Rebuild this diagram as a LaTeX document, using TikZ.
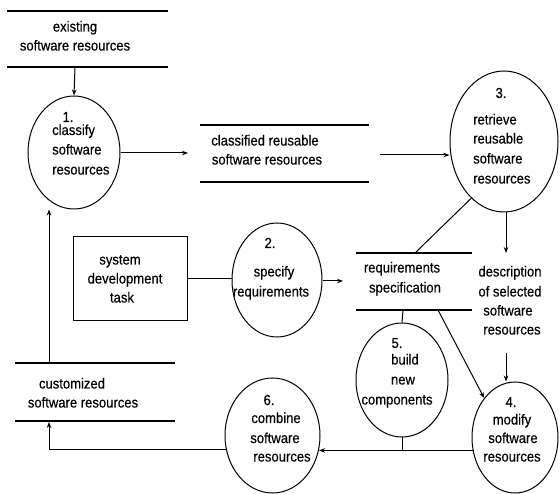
\documentclass[tikz,border=0pt]{standalone}
\usepackage{fontspec}
\setmainfont{Liberation Sans}[FakeStretch=0.9,FakeBold=0.4]
\usetikzlibrary{shapes.geometric,arrows.meta}
\tikzset{
  proc/.style={draw,ellipse,line width=1pt,inner sep=0pt},
  txt/.style={anchor=base,inner sep=0pt,font=\fontsize{14.5}{17}\selectfont},
  storeline/.style={line width=1.2pt},
  flow/.style={line width=1pt,-{Stealth[length=6pt,width=4.5pt]}},
  link/.style={line width=1pt},
}
\begin{document}
\begin{tikzpicture}[x=1pt,y=-1pt]
\useasboundingbox (0,0) rectangle (560,494);
% ---------- data stores ----------
\draw[storeline] (7,11) -- (168,11);
\draw[storeline] (7,67) -- (168,67);
\node[txt] (s1a) at (75,31.5) {existing};
\node[txt] (s1b) at (75,50.5) {software resources};
\coordinate (s1out) at (75,67);

\draw[storeline] (200,125) -- (369,125);
\draw[storeline] (200,182) -- (369,182);
\node[txt] (s2a) at (265,145.5) {classified reusable};
\node[txt] (s2b) at (267,164.5) {software resources};
\coordinate (s2in) at (188,153);
\coordinate (s2out) at (380,155);

\draw[storeline] (356,253) -- (472,253);
\draw[storeline] (356,310) -- (472,310);
\node[txt] (s3a) at (402,272.5) {requirements};
\node[txt] (s3b) at (405,292.5) {specification};
\coordinate (s3in) at (343,281);
\coordinate (s3top) at (415,253);
\coordinate (s3b5) at (403,310);
\coordinate (s3b4) at (438,310);

\draw[storeline] (15,363) -- (175,363);
\draw[storeline] (15,421) -- (175,421);
\node[txt] (s4a) at (72,388.5) {customized};
\node[txt] (s4b) at (83,407.5) {software resources};
\coordinate (s4top) at (49,363);
\coordinate (s4in) at (49,422);

% ---------- description (free text) ----------
\node[txt] (d1) at (510,276.5) {description};
\node[txt] (d2) at (510,296.5) {of selected};
\node[txt] (d3) at (508,315.5) {software};
\node[txt] (d4) at (512,334.5) {resources};
\coordinate (dtop) at (506,253);
\coordinate (dbot) at (506,353);

% ---------- external entity ----------
\node[draw,line width=1pt,minimum width=114pt,minimum height=84pt,inner sep=0pt] (task) at (130,279) {};
\node[txt] (ta) at (120,264.5) {system};
\node[txt] (tb) at (125,283.5) {development};
\node[txt] (tc) at (122,302.5) {task};

% ---------- processes ----------
\node[proc,minimum width=92pt,minimum height=113pt] (c1) at (74,152.5) {};
\node[txt] (c1n) at (68,122) {1.};
\node[txt,anchor=base west] (c1a) at (52,135) {classify};
\node[txt,anchor=base west] (c1b) at (52,154.5) {software};
\node[txt,anchor=base west] (c1c) at (52,174.5) {resources};

\node[proc,minimum width=90pt,minimum height=114pt] (c2) at (277,280) {};
\node[txt] (c2n) at (270,248) {2.};
\node[txt] (c2a) at (274,276.5) {specify};
\node[txt] (c2b) at (271,296.5) {requirements};

\node[proc,minimum width=108pt,minimum height=141pt] (c3) at (504,141.5) {};
\node[txt] (c3n) at (501,98) {3.};
\node[txt,anchor=base west] (c3a) at (473,124.5) {retrieve};
\node[txt,anchor=base west] (c3b) at (473,143.5) {reusable};
\node[txt,anchor=base west] (c3c) at (473,163.5) {software};
\node[txt,anchor=base west] (c3d) at (473,183.5) {resources};

\node[proc,minimum width=86pt,minimum height=111pt] (c4) at (515,437.5) {};
\node[txt] (c4n) at (511,407) {4.};
\node[txt] (c4a) at (512,424.5) {modify};
\node[txt] (c4b) at (513,443) {software};
\node[txt] (c4c) at (512,461.5) {resources};

\node[proc,minimum width=92pt,minimum height=114pt] (c5) at (402,380) {};
\node[txt] (c5n) at (397,348) {5.};
\node[txt] (c5a) at (405,364.5) {build};
\node[txt] (c5b) at (403,384.5) {new};
\node[txt] (c5c) at (397,404.5) {components};

\node[proc,minimum width=95pt,minimum height=115pt] (c6) at (272.5,435.5) {};
\node[txt] (c6n) at (269,405) {6.};
\node[txt] (c6a) at (276,423) {combine};
\node[txt] (c6b) at (275,443) {software};
\node[txt] (c6c) at (282,461.5) {resources};

% ---------- flows ----------
\draw[flow] (s1out) -- (c1.north);
\draw[flow] (c1.east |- s2in) -- (s2in);
\draw[flow] (s2out) -- (c3.west |- s2out);
\draw[link] (c3.240) -- (s3top);
\draw[flow] (c3.south -| dtop) -- (dtop);
\draw[flow] (dbot) -- (dbot |- c4.north);
\draw[link] (task.east) -- (c2.west |- task.east);
\draw[flow] (c2.east |- s3in) -- (s3in);
\draw[link] (s3b5) -- (c5.north);
\draw[flow] (s3b4) -- (c4.128);
\draw[flow] (c4.197) -- (c6.343 |- c4.197);
\draw[link] (c5.south) -- (c5.south |- c4.197);
\draw[flow] (c6.197) -| (s4in);
\draw[flow] (s4top) -- (s4top |- c1.south);
\end{tikzpicture}
\end{document}
